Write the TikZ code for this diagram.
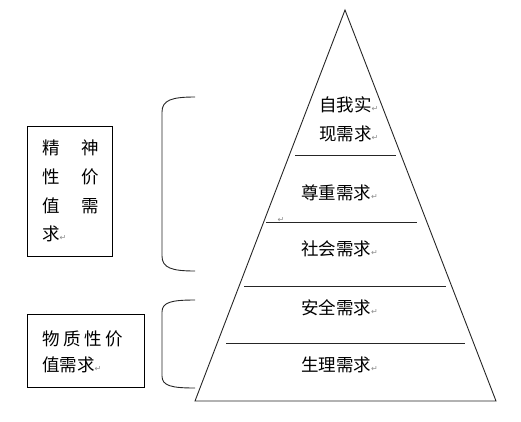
\documentclass[tikz,border=0pt]{standalone}
\usepackage{fontspec}
\newfontfamily\cjk{Noto Sans CJK SC}
\newfontfamily\symfont{DejaVu Sans}
\newcommand{\retmark}{{\symfont\fontsize{8}{8}\selectfont\color{black!45}↵}}
\begin{document}
\begin{tikzpicture}[x=1pt,y=-1pt,
  ln/.style={line width=0.9pt, draw=black!85},
  lbl/.style={font=\cjk\fontsize{17.5}{29}\selectfont, inner sep=0pt, anchor=west, align=left},
  boxlbl/.style={draw=black, line width=0.9pt, inner sep=0pt}]
\useasboundingbox (0,0) rectangle (521,421);
% pyramid
\coordinate (apex) at (345,10);
\coordinate (bl) at (195,401);
\coordinate (br) at (496,401);
\draw[ln] (apex) -- (bl) -- (br) -- cycle;
\coordinate (l1a) at (295,155); \coordinate (l1b) at (396,155);
\coordinate (l2a) at (266,222); \coordinate (l2b) at (417,222);
\coordinate (l3a) at (244,286); \coordinate (l3b) at (446,286);
\coordinate (l4a) at (226,343); \coordinate (l4b) at (465,343);
\draw[ln] (l1a) -- (l1b);
\draw[ln] (l2a) -- (l2b);
\draw[ln] (l3a) -- (l3b);
\draw[ln] (l4a) -- (l4b);
\node[inner sep=0pt] (rm) at (281,220) {\retmark};
% level labels
\node[lbl] (t1) at (319,119) {自我实\retmark\\现需求\retmark};
\node[lbl] (t2) at (301,193) {尊重需求\retmark};
\node[lbl] (t3) at (301,249) {社会需求\retmark};
\node[lbl] (t4) at (301,308) {安全需求\retmark};
\node[lbl] (t5) at (301,365) {生理需求\retmark};
% braces
\draw[ln] (195,97) .. controls (172,97) and (162,100) .. (162,112) -- (162,256) .. controls (162,268) and (172,271) .. (195,271);
\draw[ln] (195,300) .. controls (172,300) and (162,302) .. (162,312) -- (162,376) .. controls (162,386) and (172,388) .. (195,388);
% left boxes
\node[boxlbl, minimum width=85, minimum height=130] (b1) at (69.5,191) {};
\node[font=\cjk\fontsize{17.5}{28.7}\selectfont, inner sep=0pt, anchor=west] (b1t) at (42,192)
  {\begin{tabular}{@{}l@{\hspace{15pt}}l@{}}精&神\\性&价\\值&需\\求\retmark&\end{tabular}};
\node[boxlbl, minimum width=117, minimum height=73] (b2) at (85.5,350.5) {};
\node[lbl, font=\cjk\fontsize{17.5}{26}\selectfont] (b2t) at (42,352) {物\hspace{3.5pt}质\hspace{3.5pt}性\hspace{3.5pt}价\\值需求\retmark};
\end{tikzpicture}
\end{document}
